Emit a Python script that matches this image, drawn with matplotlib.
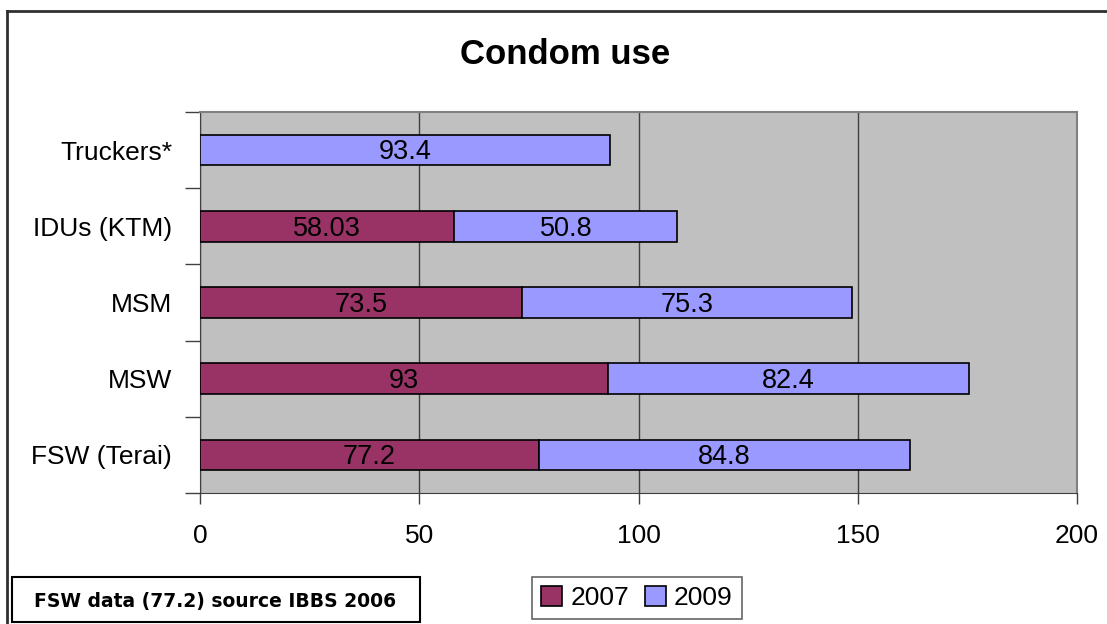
import numpy as np
import matplotlib.pyplot as plt
from matplotlib.patches import Rectangle
from matplotlib.lines import Line2D

plt.rcParams['font.family'] = ['Liberation Sans', 'DejaVu Sans']

groups = ['FSW (Terai)', 'MSW', 'MSM', 'IDUs (KTM)', 'Truckers*']
v2007 = [77.2, 93, 73.5, 58.03, 0]
v2009 = [84.8, 82.4, 75.3, 50.8, 93.4]
lab2007 = ['77.2', '93', '73.5', '58.03', '']
lab2009 = ['84.8', '82.4', '75.3', '50.8', '93.4']
xticks = [0, 50, 100, 150, 200]

c07 = '#993366'
c09 = '#9999FF'

fig = plt.figure(figsize=(11.07, 6.24), dpi=100)
ax = fig.add_axes([200/1107, 131/624, 877/1107, 381/624])
ax.set_facecolor('#C0C0C0')

y = np.arange(len(groups))
h = 0.4
ax.barh(y, v2007, height=h, color=c07, edgecolor='black', linewidth=1.2, zorder=3, label='2007')
ax.barh(y, v2009, height=h, left=v2007, color=c09, edgecolor='black', linewidth=1.2, zorder=3, label='2009')

for i in range(len(groups)):
    if lab2007[i]:
        ax.text(v2007[i] / 2, y[i] - 0.03, lab2007[i], ha='center', va='center', fontsize=19.5, zorder=4)
    ax.text(v2007[i] + v2009[i] / 2, y[i] - 0.03, lab2009[i], ha='center', va='center', fontsize=19.5, zorder=4)

ax.set_xlim(0, 200)
ax.set_ylim(-0.5, len(groups) - 0.5)
ax.set_xticks(xticks)
ax.set_xticklabels([str(t) for t in xticks], fontsize=19)
ax.tick_params(axis='x', length=8, width=1, color='#404040', pad=14)
ax.set_yticks(y)
ax.set_yticklabels(groups, fontsize=19)
ax.tick_params(axis='y', length=0, pad=20)
ax.set_yticks(np.arange(-0.5, len(groups), 1), minor=True)
ax.tick_params(axis='y', which='minor', length=11, width=1, color='#404040')
ax.xaxis.grid(True, color='#404040', linewidth=1, zorder=1)
ax.set_axisbelow(True)
for s in ['top', 'right']:
    ax.spines[s].set_color('#808080')
    ax.spines[s].set_linewidth(1.5)
ax.spines['left'].set_color('#404040')
ax.spines['bottom'].set_color('#404040')

fig.text(565/1107, 1 - 54/624, 'Condom use', ha='center', va='center', fontsize=25, fontweight='bold')

# outer border (top and left edges visible)
fig.add_artist(Line2D([7/1107, 1], [1 - 11/624, 1 - 11/624], color='#303030', linewidth=2))
fig.add_artist(Line2D([7/1107, 7/1107], [0, 1 - 11/624], color='#303030', linewidth=2))

# note box
fig.add_artist(Rectangle((12/1107, 2/624), 408/1107, 45/624, transform=fig.transFigure,
                         facecolor='white', edgecolor='black', linewidth=1.5))
fig.text(215/1107, 1 - 601/624, 'FSW data (77.2) source IBBS 2006', ha='center', va='center',
         fontsize=13.5, fontweight='bold', family='DejaVu Sans')

leg = fig.legend(loc='center', bbox_to_anchor=(637/1107, 1 - 598/624), ncol=2, fontsize=19,
                 frameon=True, fancybox=False, edgecolor='#404040', handlelength=0.8,
                 handleheight=0.8, handletextpad=0.3, columnspacing=0.6, borderpad=0.35)
leg.get_frame().set_linewidth(1.2)

fig.savefig('out.png', dpi=100)
